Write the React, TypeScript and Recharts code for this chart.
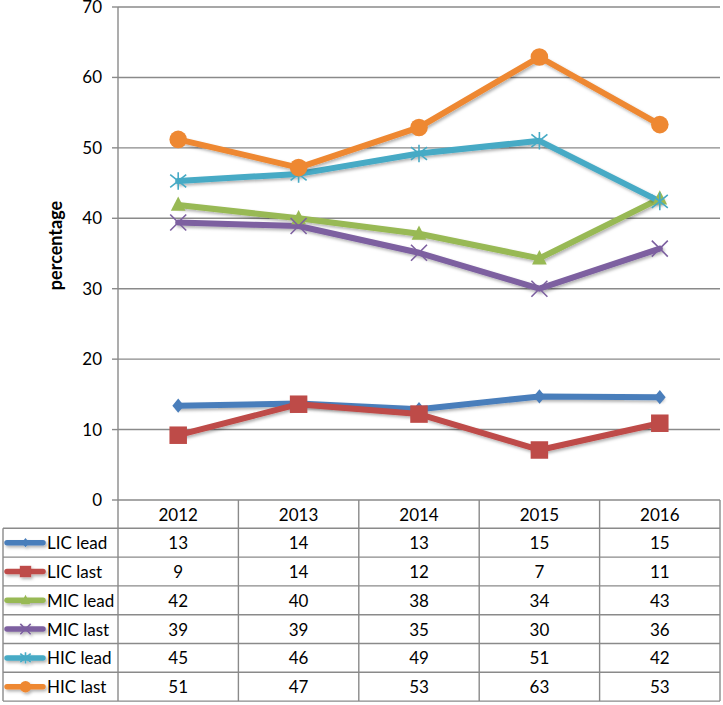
import React from 'react';
import { LineChart, Line, XAxis, YAxis, CartesianGrid } from 'recharts';

const years = ['2012', '2013', '2014', '2015', '2016'];
const licLead = [13.4, 13.7, 12.9, 14.7, 14.6];
const licLast = [9.2, 13.6, 12.2, 7.1, 10.9];
const micLead = [41.9, 40.0, 37.8, 34.3, 42.8];
const micLast = [39.4, 38.9, 35.1, 30.0, 35.7];
const hicLead = [45.3, 46.3, 49.2, 51.0, 42.4];
const hicLast = [51.2, 47.2, 52.9, 62.9, 53.3];
const yTicks = [0, 10, 20, 30, 40, 50, 60, 70];

type Shape = 'diamond' | 'square' | 'triangle' | 'x' | 'star' | 'circle';

const series: { key: string; name: string; values: number[]; color: string; shape: Shape }[] = [
  { key: 'licLead', name: 'LIC lead', values: licLead, color: '#4a7ebb', shape: 'diamond' },
  { key: 'licLast', name: 'LIC last', values: licLast, color: '#be4b48', shape: 'square' },
  { key: 'micLead', name: 'MIC lead', values: micLead, color: '#98b954', shape: 'triangle' },
  { key: 'micLast', name: 'MIC last', values: micLast, color: '#7d60a0', shape: 'x' },
  { key: 'hicLead', name: 'HIC lead', values: hicLead, color: '#46aac5', shape: 'star' },
  { key: 'hicLast', name: 'HIC last', values: hicLast, color: '#ee8832', shape: 'circle' },
];

const data = years.map((y, i) => {
  const row: Record<string, string | number> = { year: y };
  series.forEach((s) => {
    row[s.key] = s.values[i];
  });
  return row;
});

const W = 723;
const H = 705;
const PLOT_LEFT = 118;
const PLOT_RIGHT = 720;
const PLOT_TOP = 7;
const PLOT_BOTTOM = 500;
const TABLE_LEFT = 3;
const HEADER_H = 28.3;
const ROW_H = 28.8;
const GRID = '#8a8a8a';
const FONT = 'Lato, "Open Sans", sans-serif';
const FS = 17;

function marker(shape: Shape, cx: number, cy: number, color: string, s: number, key?: string) {
  const r = s / 2;
  switch (shape) {
    case 'diamond':
      return (
        <path key={key} d={`M${cx},${cy - r * 1.1}L${cx + r * 0.9},${cy}L${cx},${cy + r * 1.1}L${cx - r * 0.9},${cy}Z`} fill={color} />
      );
    case 'square':
      return <rect key={key} x={cx - r * 1.25} y={cy - r * 1.25} width={s * 1.25} height={s * 1.25} fill={color} />;
    case 'triangle':
      return (
        <path key={key} d={`M${cx},${cy - r * 1.2}L${cx + r * 1.05},${cy + r * 0.85}L${cx - r * 1.05},${cy + r * 0.85}Z`} fill={color} />
      );
    case 'x':
      return (
        <path key={key} d={`M${cx - r},${cy - r}L${cx + r},${cy + r}M${cx - r},${cy + r}L${cx + r},${cy - r}`} stroke={color} strokeWidth={1.6} fill="none" />
      );
    case 'star':
      return (
        <path
          key={key}
          d={`M${cx - r},${cy - r * 0.8}L${cx + r},${cy + r * 0.8}M${cx - r},${cy + r * 0.8}L${cx + r},${cy - r * 0.8}M${cx},${cy - r * 1.1}L${cx},${cy + r * 1.1}`}
          stroke={color}
          strokeWidth={1.6}
          fill="none"
        />
      );
    case 'circle':
    default:
      return <circle key={key} cx={cx} cy={cy} r={r * 1.1} fill={color} />;
  }
}

const markerSize: Record<Shape, number> = {
  diamond: 13,
  square: 14,
  triangle: 14,
  x: 16,
  star: 16,
  circle: 16,
};

function TableOverlay() {
  const colW = (PLOT_RIGHT - PLOT_LEFT) / years.length;
  const bottom = PLOT_BOTTOM + HEADER_H + ROW_H * series.length;
  const lines: React.ReactNode[] = [];
  for (let i = 0; i <= series.length; i++) {
    const y = PLOT_BOTTOM + HEADER_H + ROW_H * i;
    lines.push(<line key={`h${i}`} x1={TABLE_LEFT} x2={PLOT_RIGHT} y1={y} y2={y} stroke={GRID} strokeWidth={1.4} />);
  }
  lines.push(<line key="vl" x1={TABLE_LEFT} x2={TABLE_LEFT} y1={PLOT_BOTTOM + HEADER_H} y2={bottom} stroke={GRID} strokeWidth={1.4} />);
  for (let j = 0; j <= years.length; j++) {
    const x = PLOT_LEFT + colW * j;
    lines.push(<line key={`v${j}`} x1={x} x2={x} y1={PLOT_BOTTOM} y2={bottom} stroke={GRID} strokeWidth={1.4} />);
  }
  const texts: React.ReactNode[] = [];
  years.forEach((y, j) => {
    texts.push(
      <text key={`y${j}`} x={PLOT_LEFT + colW * (j + 0.5)} y={PLOT_BOTTOM + HEADER_H / 2} textAnchor="middle" dominantBaseline="central" fontSize={FS} fontFamily={FONT} fill="#000">
        {y}
      </text>
    );
  });
  series.forEach((s, i) => {
    const cy = PLOT_BOTTOM + HEADER_H + ROW_H * (i + 0.5);
    texts.push(
      <g key={`lg${i}`} filter="url(#shadow)">
        <line x1={7} x2={43} y1={cy} y2={cy} stroke={s.color} strokeWidth={5.5} strokeLinecap="round" />
        {marker(s.shape, 25.5, cy, s.color, markerSize[s.shape] * 0.65)}
      </g>
    );
    texts.push(
      <text key={`n${i}`} x={47} y={cy} dominantBaseline="central" fontSize={FS} fontFamily={FONT} fill="#000">
        {s.name}
      </text>
    );
    s.values.forEach((v, j) => {
      texts.push(
        <text key={`c${i}-${j}`} x={PLOT_LEFT + colW * (j + 0.5)} y={cy} textAnchor="middle" dominantBaseline="central" fontSize={FS} fontFamily={FONT} fill="#000">
          {Math.round(v)}
        </text>
      );
    });
  });
  return (
    <svg width={W} height={H} style={{ position: 'absolute', left: 0, top: 0, pointerEvents: 'none' }}>
      {lines}
      {texts}
    </svg>
  );
}

export default function App() {
  return (
    <div style={{ position: 'absolute', left: 0, top: 0, width: W, height: H, background: '#fff' }}>
      <svg width={0} height={0} style={{ position: 'absolute' }}>
        <defs>
          <filter id="shadow" x="-20%" y="-20%" width="140%" height="160%">
            <feDropShadow dx={1.5} dy={2} stdDeviation={1.5} floodColor="#000" floodOpacity={0.3} />
          </filter>
        </defs>
      </svg>
      <LineChart
        width={W}
        height={H}
        data={data}
        margin={{ top: PLOT_TOP, right: W - PLOT_RIGHT, bottom: H - PLOT_BOTTOM, left: 0 }}
      >
        <CartesianGrid vertical={false} stroke={GRID} strokeWidth={1.4} />
        <XAxis dataKey="year" scale="band" hide padding={{ left: 0, right: 0 }} />
        <YAxis
          width={PLOT_LEFT}
          domain={[0, 70]}
          ticks={yTicks}
          interval={0}
          axisLine={{ stroke: GRID, strokeWidth: 1.4 }}
          tickLine={{ stroke: GRID, strokeWidth: 1.4 }}
          tickSize={6}
          tickMargin={10}
          tick={{ fill: '#000', fontSize: FS, fontFamily: FONT }}
          label={{ value: 'percentage', angle: -90, position: 'center', dx: -3, dy: -8, fill: '#000', fontSize: 18, fontWeight: 'bold', fontFamily: FONT }}
        />
        {series.map((s) => (
          <Line
            key={s.key}
            dataKey={s.key}
            name={s.name}
            stroke={s.color}
            strokeWidth={6}
            strokeLinejoin="round"
            strokeLinecap="round"
            isAnimationActive={false}
            filter="url(#shadow)"
            dot={(p: any) => (
              <g key={`${s.key}-d${p.index}`}>{marker(s.shape, p.cx, p.cy, s.color, markerSize[s.shape])}</g>
            )}
            activeDot={false}
          />
        ))}
      </LineChart>
      <TableOverlay />
    </div>
  );
}
